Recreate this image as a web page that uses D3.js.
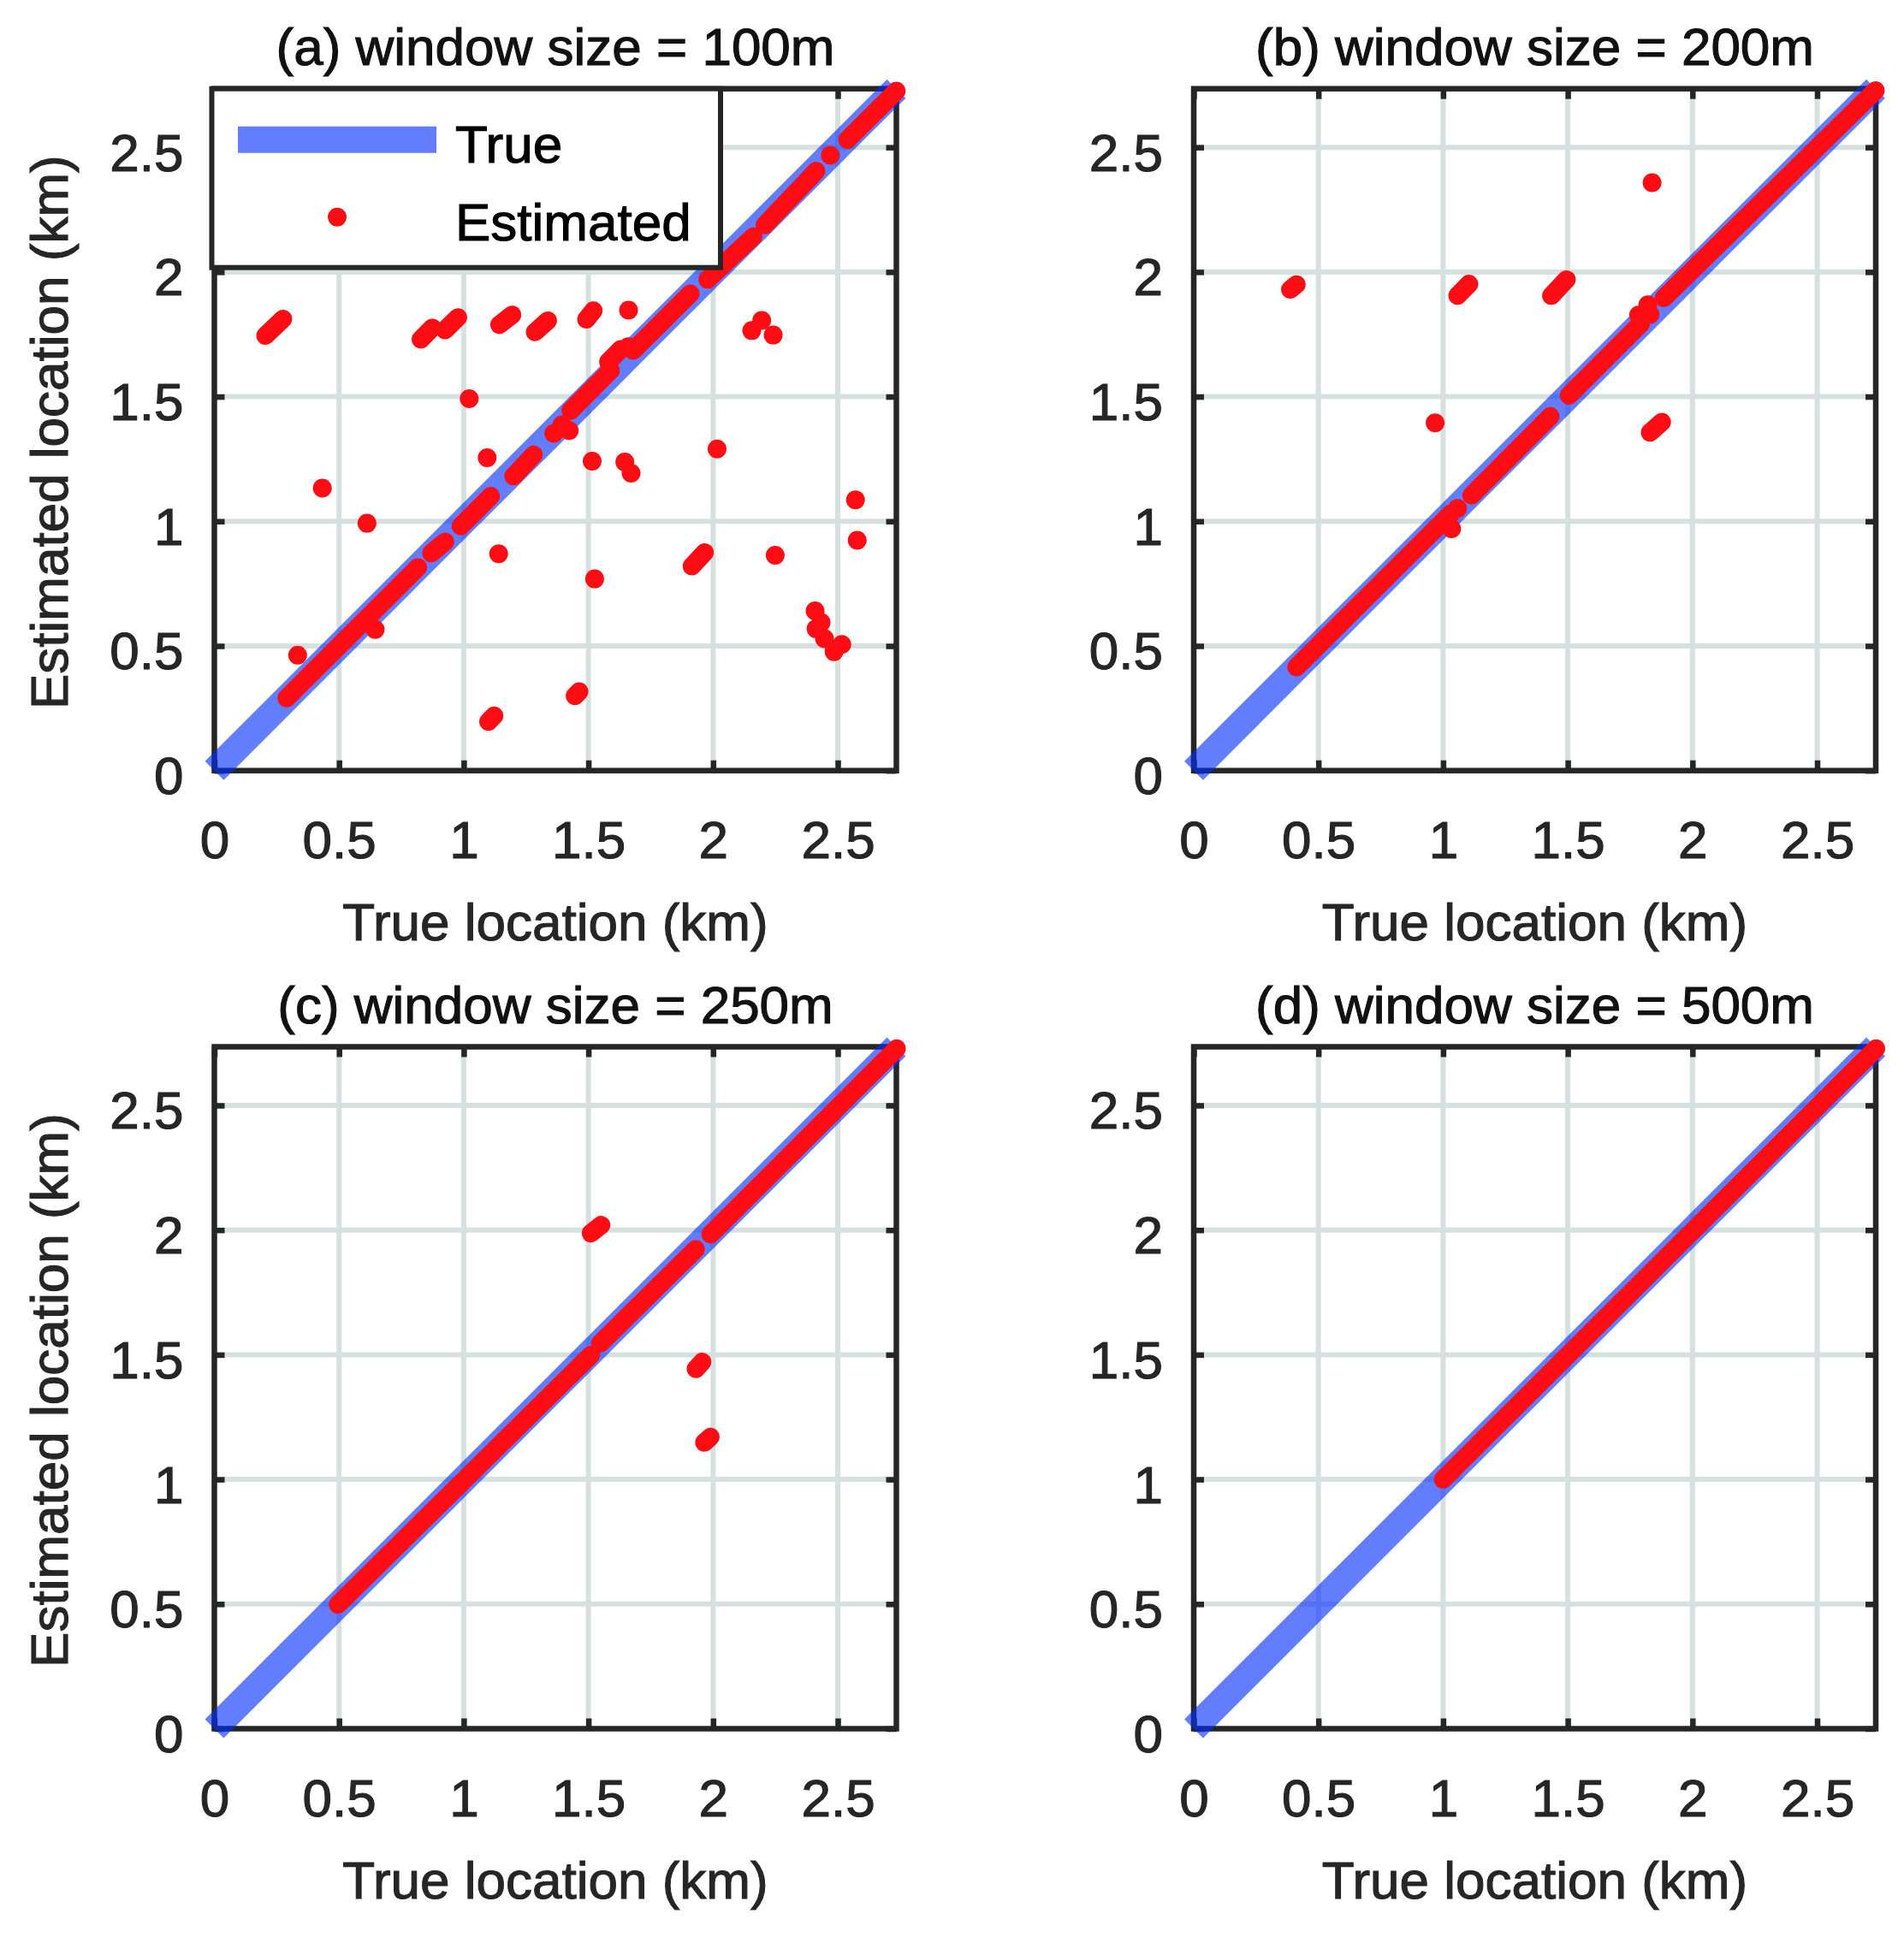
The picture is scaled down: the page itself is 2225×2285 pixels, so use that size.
<!DOCTYPE html>
<html>
<head>
<meta charset="utf-8">
<script src="https://cdn.jsdelivr.net/npm/d3@7"></script>
<style>
  body { margin: 0; background: #fff; }
  text { stroke-width: 1.1px; }
</style>
</head>
<body>
<div id="fig"></div>
<script>
const fig_width = 2225,
      fig_height = 2285,
      plot_size = 797,
      font_size = 62,
      font_family = "'Liberation Sans', Arial, Helvetica, sans-serif";

const axis_color = "#262626",
      grid_color = "#d6e0e0",
      red = "#ff0c14";

// axes
const axisMax = 2.735;
const tickValues = [0, 0.5, 1, 1.5, 2, 2.5];
const tickLabels = ["0", "0.5", "1", "1.5", "2", "2.5"];
const titles = ["(a) window size = 100m", "(b) window size = 200m",
                "(c) window size = 250m", "(d) window size = 500m"];

// "True" series: the identity line, true location = estimated location (km)
const trueLine = [0, 2.735];

// "Estimated" series (km). runs = stretches of closely packed points [x0, y0, x1, y1],
// dots = isolated points [x, y]
const runsA = [
  [0.290, 0.291, 0.816, 0.815], [0.870, 0.872, 0.925, 0.918], [0.988, 0.981, 1.108, 1.101],
  [1.200, 1.181, 1.280, 1.267], [1.429, 1.444, 1.589, 1.605], [1.680, 1.685, 1.909, 1.913],
  [1.978, 1.970, 2.161, 2.142], [2.207, 2.188, 2.413, 2.405], [2.539, 2.531, 2.735, 2.726],
  [1.099, 0.197, 1.122, 0.220], [1.446, 0.300, 1.463, 0.317], [1.915, 0.820, 1.966, 0.875],
  [0.205, 1.745, 0.275, 1.812], [0.828, 1.730, 0.874, 1.776], [0.925, 1.767, 0.977, 1.818],
  [1.143, 1.788, 1.194, 1.828], [1.286, 1.759, 1.337, 1.805], [1.492, 1.810, 1.520, 1.845],
  [1.580, 1.640, 1.630, 1.690]
];
const dotsA = [
  [0.334, 0.463], [0.433, 1.133], [0.612, 0.992], [0.645, 0.566], [1.022, 1.492],
  [1.094, 1.255], [1.140, 0.870], [1.515, 1.241], [1.646, 1.238], [1.671, 1.193],
  [2.016, 1.290], [2.571, 1.086], [2.578, 0.924], [2.249, 0.864], [1.525, 0.769],
  [1.661, 1.847], [2.155, 1.765], [2.195, 1.806], [2.241, 1.747], [2.409, 0.641],
  [2.433, 0.594], [2.413, 0.569], [2.447, 0.529], [2.485, 0.477], [2.516, 0.506],
  [1.361, 1.353], [1.394, 1.387], [1.423, 1.364], [1.660, 1.700], [2.470, 2.468]
];

const runsB = [
  [0.412, 0.415, 1.030, 1.030], [1.114, 1.104, 1.430, 1.421], [1.505, 1.505, 1.793, 1.793],
  [1.886, 1.896, 2.734, 2.728], [1.058, 1.905, 1.104, 1.952], [1.434, 1.905, 1.495, 1.970],
  [1.830, 1.356, 1.877, 1.398], [0.387, 1.930, 0.412, 1.950]
];
const dotsB = [
  [1.058, 1.052], [1.034, 0.970], [0.968, 1.395], [1.838, 2.358],
  [1.784, 1.827], [1.821, 1.868], [1.830, 1.830]
];

const runsC = [
  [0.496, 0.498, 1.510, 1.499], [1.547, 1.545, 1.930, 1.923], [1.990, 1.983, 2.736, 2.728],
  [1.510, 1.987, 1.551, 2.020], [1.931, 1.443, 1.956, 1.471], [1.965, 1.148, 1.989, 1.170]
];
const dotsC = [];

const runsD = [[1.000, 1.000, 2.736, 2.728]];
const dotsD = [];

const panels = [
  { title: titles[0], runs: runsA, dots: dotsA, left: 250.5, bottom: 900.7, yLabel: true, legend: true },
  { title: titles[1], runs: runsB, dots: dotsB, left: 1395, bottom: 900.7 },
  { title: titles[2], runs: runsC, dots: dotsC, left: 250.5, bottom: 2020.5, yLabel: true },
  { title: titles[3], runs: runsD, dots: dotsD, left: 1395, bottom: 2020.5 }
];

const svg = d3.select("#fig")
    .append("svg")
    .attr("width", fig_width)
    .attr("height", fig_height)
    .style("font-family", font_family);

svg.append("rect").attr("width", fig_width).attr("height", fig_height).attr("fill", "#fff");

function styleAxis(sel) {
    sel.attr("font-size", font_size)
       .attr("font-family", font_family)
       .attr("color", axis_color);
    sel.select(".domain").remove();
    sel.selectAll("line").attr("stroke-width", 6.5);
    sel.selectAll("text").attr("stroke", axis_color);
}

panels.forEach(p => {
    let x = d3.scaleLinear()
        .domain([0, axisMax])
        .range([p.left, p.left + plot_size]);

    let y = d3.scaleLinear()
        .domain([0, axisMax])
        .range([p.bottom, p.bottom - plot_size]);

    let line = d3.line().x(d => x(d[0])).y(d => y(d[1]));

    const g = svg.append("g");

    // grid
    g.selectAll(".gx").data(tickValues.slice(1)).join("line")
        .attr("x1", d => x(d)).attr("x2", d => x(d))
        .attr("y1", y(0)).attr("y2", y(axisMax))
        .attr("stroke", grid_color).attr("stroke-width", 6);
    g.selectAll(".gy").data(tickValues.slice(1)).join("line")
        .attr("y1", d => y(d)).attr("y2", d => y(d))
        .attr("x1", x(0)).attr("x2", x(axisMax))
        .attr("stroke", grid_color).attr("stroke-width", 6);

    // axes with inward ticks on all four sides
    const xb = g.append("g")
        .attr("transform", `translate(0,${y(0)})`)
        .call(d3.axisBottom(x).tickValues(tickValues).tickFormat((d, i) => tickLabels[i])
              .tickSize(-12).tickPadding(0));
    styleAxis(xb);
    xb.selectAll("text").attr("y", 102.5).attr("dy", 0);

    const yl = g.append("g")
        .attr("transform", `translate(${x(0)},0)`)
        .call(d3.axisLeft(y).tickValues(tickValues).tickFormat((d, i) => tickLabels[i])
              .tickSize(-12).tickPadding(36));
    styleAxis(yl);
    yl.selectAll("text").attr("dy", 27);

    const xt = g.append("g")
        .attr("transform", `translate(0,${y(axisMax)})`)
        .call(d3.axisTop(x).tickValues(tickValues).tickFormat("").tickSize(-12));
    styleAxis(xt);

    const yr = g.append("g")
        .attr("transform", `translate(${x(axisMax)},0)`)
        .call(d3.axisRight(y).tickValues(tickValues).tickFormat("").tickSize(-12));
    styleAxis(yr);

    g.append("rect")
        .attr("x", x(0)).attr("y", y(axisMax))
        .attr("width", x(axisMax) - x(0)).attr("height", y(0) - y(axisMax))
        .attr("fill", "none").attr("stroke", axis_color).attr("stroke-width", 6.5);

    // True
    g.append("path")
        .datum(trueLine.map(v => [v, v]))
        .attr("d", line)
        .attr("fill", "none")
        .attr("stroke", "rgb(0,45,255)")
        .attr("stroke-opacity", 0.615)
        .attr("stroke-width", 31);

    // Estimated
    g.selectAll(".run").data(p.runs).join("path")
        .attr("d", d => line([[d[0], d[1]], [d[2], d[3]]]))
        .attr("fill", "none")
        .attr("stroke", red)
        .attr("stroke-width", 21.5)
        .attr("stroke-linecap", "round");

    g.selectAll(".dot").data(p.dots).join("circle")
        .attr("cx", d => x(d[0]))
        .attr("cy", d => y(d[1]))
        .attr("r", 11)
        .attr("fill", red);

    // texts
    g.append("text")
        .attr("x", (x(0) + x(axisMax)) / 2)
        .attr("y", y(axisMax) - 28)
        .attr("text-anchor", "middle")
        .attr("font-size", font_size)
        .attr("fill", "#111").attr("stroke", "#111")
        .text(p.title);

    g.append("text")
        .attr("x", (x(0) + x(axisMax)) / 2)
        .attr("y", y(0) + 198.6)
        .attr("text-anchor", "middle")
        .attr("font-size", font_size)
        .attr("fill", axis_color).attr("stroke", axis_color)
        .text("True location (km)");

    if (p.yLabel) {
        g.append("text")
            .attr("transform", `translate(79,${(y(0) + y(axisMax)) / 2 + 3}) rotate(-90)`)
            .attr("text-anchor", "middle")
            .attr("font-size", font_size)
            .attr("fill", axis_color).attr("stroke", axis_color)
            .text("Estimated location (km)");
    }

    if (p.legend) {
        const lx = x(0) - 3, ly = y(axisMax);
        const lg = g.append("g");
        lg.append("rect")
            .attr("x", lx).attr("y", ly)
            .attr("width", 594.5).attr("height", 209)
            .attr("fill", "#fff").attr("stroke", axis_color).attr("stroke-width", 6);
        lg.append("line")
            .attr("x1", lx + 30.5).attr("x2", lx + 262.5)
            .attr("y1", ly + 59.5).attr("y2", ly + 59.5)
            .attr("stroke", "rgb(0,45,255)").attr("stroke-opacity", 0.615)
            .attr("stroke-width", 31);
        lg.append("circle")
            .attr("cx", lx + 146.5).attr("cy", ly + 150)
            .attr("r", 11).attr("fill", red);
        lg.append("text")
            .attr("x", lx + 284.5).attr("y", ly + 86.7)
            .attr("font-size", font_size).attr("fill", "#000").attr("stroke", "#000")
            .text("True");
        lg.append("text")
            .attr("x", lx + 284.5).attr("y", ly + 177.7)
            .attr("font-size", font_size).attr("fill", "#000").attr("stroke", "#000")
            .text("Estimated");
    }
});
</script>
</body>
</html>
